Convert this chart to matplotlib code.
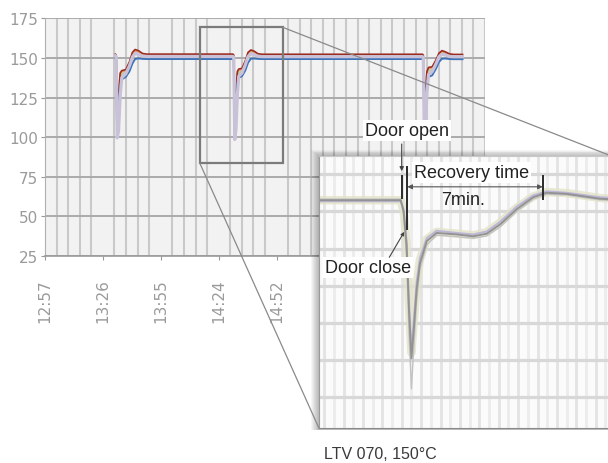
import matplotlib
matplotlib.use('Agg')
import matplotlib.pyplot as plt
import numpy as np
from matplotlib.patches import Rectangle, ConnectionPatch

# ---------------- main chart data (minutes since 12:57, °C) ----------------
time_min = [35.0, 35.4, 35.9, 36.6, 37.4, 38.2, 40.2, 42.0, 43.5, 44.8, 46.5, 48.5, 50.6,
            93.5, 93.9, 94.4, 95.0, 95.7, 96.4, 98.0, 99.6, 101.0, 102.4, 104.0, 106.0, 108.0,
            187.8, 188.2, 188.7, 189.3, 190.0, 190.8, 192.6, 194.4, 196.0, 197.5, 199.2, 201.3, 203.5, 207.7]

red = [152.4, 151.8, 100.0, 127.0, 140.5, 142.0, 142.6, 147.5, 153.5, 155.3, 154.6, 152.8, 152.4,
       152.4, 151.8, 99.0, 128.0, 141.5, 143.0, 143.4, 148.0, 153.5, 155.0, 154.3, 152.6, 152.3,
       152.3, 151.7, 104.0, 130.0, 141.5, 144.0, 144.4, 148.5, 153.0, 154.6, 153.8, 152.5, 152.2, 152.2]
orange = [152.2, 151.5, 100.5, 125.0, 139.5, 141.3, 141.9, 146.8, 152.6, 154.5, 153.8, 152.2, 151.9,
          151.9, 151.4, 99.5, 126.0, 140.5, 142.3, 142.7, 147.3, 152.8, 154.3, 153.6, 152.0, 151.8,
          151.8, 151.3, 104.5, 128.0, 140.8, 143.3, 143.7, 147.8, 152.3, 153.9, 153.2, 151.9, 151.7, 151.7]
beige = [151.8, 151.2, 100.0, 124.0, 138.5, 140.6, 141.2, 146.0, 151.8, 153.8, 153.2, 151.6, 151.3,
         151.3, 150.9, 99.0, 125.0, 139.5, 141.6, 142.0, 146.6, 152.0, 153.6, 153.0, 151.4, 151.2,
         151.2, 150.8, 103.5, 127.0, 140.0, 142.6, 143.0, 147.1, 151.6, 153.2, 152.6, 151.3, 151.1, 151.1]
green = [151.5, 150.8, 101.0, 122.0, 137.5, 139.8, 140.4, 145.3, 151.0, 153.2, 152.6, 151.1, 150.9,
         150.9, 150.5, 100.0, 123.0, 138.5, 140.8, 141.2, 145.8, 151.2, 153.0, 152.4, 150.9, 150.8,
         150.8, 150.4, 104.0, 125.0, 139.0, 141.8, 142.2, 146.4, 150.9, 152.6, 152.0, 150.8, 150.7, 150.7]
lavender = [151.4, 150.8, 99.5, 104.0, 126.0, 137.5, 140.0, 145.0, 150.6, 152.8, 152.3, 151.1, 150.9,
            150.9, 150.5, 98.5, 105.0, 127.0, 138.5, 140.5, 145.5, 150.9, 152.6, 152.1, 151.0, 150.8,
            150.8, 150.4, 100.0, 108.0, 128.0, 139.5, 141.4, 146.0, 150.8, 152.3, 151.8, 150.9, 150.8, 150.8]
blue = [150.0, 149.5, 101.0, 122.0, 133.0, 136.5, 138.0, 141.5, 146.5, 149.3, 149.7, 149.4, 149.3,
        149.3, 149.0, 100.0, 123.0, 134.0, 137.5, 138.5, 142.0, 147.0, 149.5, 149.6, 149.4, 149.3,
        149.3, 149.0, 106.0, 125.0, 135.0, 138.0, 139.0, 143.0, 147.5, 149.5, 149.6, 149.3, 149.2, 149.2]

x_tick_labels = ['12:57', '13:26', '13:55', '14:24', '14:52']
x_tick_step = 28.8        # minutes between labels
x_grid_step = 5.76        # minutes between grid lines
x_grid_count = 38
y_ticks = [25, 50, 75, 100, 125, 150, 175]

# zoom window shown in main chart (minutes, °C)
zoom_t = [77.0, 118.3]
zoom_v = [83.6, 169.3]

# ---------------- inset data (minutes after door open, °C) ----------------
inset_t = [-4.3, -0.05, 0.10, 0.25, 0.38, 0.50, 0.62, 0.77, 0.94, 1.29, 1.80, 2.84,
           3.69, 4.38, 5.07, 5.93, 6.78, 7.47, 8.51, 10.22, 12.3]
inset_band = [150.0, 150.0, 147.0, 138.0, 121.0, 109.0, 117.0, 127.0, 134.0, 139.5, 141.5, 141.0,
              140.6, 141.4, 144.0, 148.0, 151.0, 152.2, 151.9, 150.6, 150.0]
inset_deep = [150.3, 150.3, 146.0, 135.0, 114.0, 99.3, 110.0, 123.0, 131.5, 138.0, 140.6, 140.2,
              139.8, 140.4, 142.8, 147.0, 150.3, 151.6, 151.4, 150.1, 149.6]
inset_lav = [149.7, 149.7, 147.5, 139.0, 122.0, 110.0, 117.5, 128.0, 134.5, 139.8, 141.8, 141.2,
             140.8, 141.6, 144.2, 148.3, 151.3, 152.4, 152.0, 150.8, 150.2]
inset_grey = [150.0, 150.0, 147.0, 138.0, 120.0, 107.5, 115.0, 126.0, 133.0, 139.0, 141.2, 140.8,
              140.3, 141.0, 143.5, 147.6, 150.8, 152.0, 151.7, 150.4, 149.8]

door_open_t = 0.0
door_close_t = 0.26
recovered_t = 7.27

# ---------------- figure ----------------
W, H = 608, 464
fig = plt.figure(figsize=(W / 100, H / 100), dpi=100)


def fx(px):
    return px / W


def fy(py):
    return 1 - py / H


tick_font = 'Liberation Sans Narrow'
text_font = 'Liberation Sans'

ax = fig.add_axes([fx(45), fy(257), fx(485) - fx(45), fy(19.3) - fy(257)], zorder=1)
ax.set_facecolor('#f2f2f2')
ax.set_xlim(0, x_grid_count * x_grid_step)
ax.set_ylim(25, 175)
ax.set_xticks([i * x_tick_step for i in range(len(x_tick_labels))])
ax.set_xticklabels(x_tick_labels, rotation=90, fontfamily=tick_font)
ax.set_xticks([i * x_grid_step for i in range(x_grid_count + 1)], minor=True)
ax.set_yticks(y_ticks)
ax.set_yticklabels([str(v) for v in y_ticks], fontfamily=tick_font)
for xv in ax.get_xticks(minor=True):
    ax.axvline(xv, color='#c9c9c9', lw=1.5, zorder=0.5)
for yv in y_ticks:
    ax.axhline(yv, color='#ababab', lw=1.4, zorder=0.6)
ax.tick_params(which='minor', length=0)
ax.tick_params(axis='x', which='major', length=3, color='#999999', labelcolor='#9a9a9a',
               labelsize=11, pad=13)
ax.tick_params(axis='y', which='major', length=3, color='#999999', labelcolor='#9a9a9a',
               labelsize=11, pad=2)
for s in ['top', 'right']:
    ax.spines[s].set_visible(False)
ax.spines['left'].set_color('#b0b0b0')
ax.spines['bottom'].set_color('#9a9a9a')
ax.spines['bottom'].set_linewidth(1.2)

series = [
    (beige, '#d9d0ae', 1.5),
    (green, '#b4d0a6', 1.3),
    (orange, '#e5a064', 1.1),
    (red, '#9c2b22', 1.2),
    (blue, '#3e73b9', 1.4),
    (lavender, '#c9c1d8', 2.3),
]
for vals, col, lw in series:
    ax.plot(time_min, vals, color=col, lw=lw, zorder=2, solid_joinstyle='round')

ax.add_patch(Rectangle((zoom_t[0], zoom_v[0]), zoom_t[1] - zoom_t[0], zoom_v[1] - zoom_v[0],
                       fill=False, ec='#7b7b7b', lw=1.6, zorder=5))

# ---------------- shadow of the inset ----------------
for k in range(1, 9):
    fig.add_artist(Rectangle((fx(319 - k), fy(431)), fx(620) - fx(319 - k), fy(157.3 - k * 0.8) - fy(431),
                             transform=fig.transFigure, fc='black', ec='none', alpha=0.035, zorder=2))

# ---------------- inset ----------------
px_per_min = 19.4
door_px = 401.7
inset_left_px, inset_right_px = 319, 612
ax_in = fig.add_axes([fx(inset_left_px), fy(429.3), fx(inset_right_px) - fx(inset_left_px),
                      fy(157.3) - fy(429.3)], zorder=3)
ax_in.set_facecolor('#fbfbfb')
ax_in.set_xlim((inset_left_px - door_px) / px_per_min, (inset_right_px - door_px) / px_per_min)
ax_in.set_ylim(88.7, 161.8)
ax_in.set_xticks([])
ax_in.set_yticks([])
for i, xv in enumerate(np.arange(-4.0, 11.0, 0.5)):
    ax_in.axvline(xv, color='#e3e3e3' if i % 2 == 0 else '#ececec', lw=2.0, zorder=0.5)
for yv in range(97, 160, 10):
    ax_in.axhline(yv, color='#d8d8d8', lw=2.3, zorder=0.6)
ax_in.spines['right'].set_visible(False)
ax_in.spines['top'].set_color('#c8c8c8')
ax_in.spines['left'].set_color('#9a9a9a')
ax_in.spines['bottom'].set_color('#8a8a8a')

ax_in.plot(inset_t, inset_band, color='#e2e2c8', lw=6, alpha=0.8, zorder=2)
ax_in.plot(inset_t, inset_deep, color='#c2c2c2', lw=1.0, zorder=2)
ax_in.plot(inset_t, inset_lav, color='#bdb6d6', lw=1.4, zorder=2)
ax_in.plot(inset_t, inset_grey, color='#939393', lw=1.4, zorder=2.1)

# markers
mk = dict(color='#2a2a2a', lw=1.4, zorder=5)
ax_in.plot([door_open_t, door_open_t], [150.5, 156.6], **mk)
ax_in.plot([door_close_t, door_close_t], [142.3, 158.9], **mk)
ax_in.plot([recovered_t, recovered_t], [150.3, 156.5], **mk)

box = dict(facecolor='white', edgecolor='none', pad=1.5)
ax_in.text(0.27, 168.7, 'Door open', ha='center', va='center', fontsize=13, color='#222222',
           fontfamily=text_font, bbox=box, clip_on=False, zorder=6)
ax_in.annotate('', xy=(door_open_t, 157.8), xytext=(door_open_t, 165.1), annotation_clip=False,
               arrowprops=dict(arrowstyle='-|>', color='#444444', lw=0.8, mutation_scale=6,
                               shrinkA=0, shrinkB=0), zorder=6)
ax_in.text(3.61, 157.5, 'Recovery time', ha='center', va='center', fontsize=13, color='#222222',
           fontfamily=text_font, bbox=box, zorder=6)
ax_in.annotate('', xy=(door_close_t + 0.03, 153.6), xytext=(recovered_t, 153.6),
               arrowprops=dict(arrowstyle='<|-|>', color='#555555', lw=0.8, mutation_scale=7,
                               shrinkA=0, shrinkB=0), zorder=6)
ax_in.text(3.18, 150.3, '7min.', ha='center', va='center', fontsize=13, color='#222222',
           fontfamily=text_font, zorder=6)
ax_in.text(-1.75, 132.0, 'Door close', ha='center', va='center', fontsize=13, color='#222222',
           fontfamily=text_font, bbox=box, zorder=6)
ax_in.annotate('', xy=(0.13, 141.5), xytext=(-0.64, 134.65),
               arrowprops=dict(arrowstyle='-|>', color='#444444', lw=0.8, mutation_scale=5,
                               shrinkA=0, shrinkB=0), zorder=6)

# connectors from zoom window to inset
c1 = ConnectionPatch(xyA=(zoom_t[1], zoom_v[1]), coordsA=ax.transData, xyB=(1, 1),
                     coordsB=ax_in.transAxes, color='#8a8a8a', lw=0.9, zorder=2.5)
c2 = ConnectionPatch(xyA=(zoom_t[0], zoom_v[0]), coordsA=ax.transData, xyB=(0, 0),
                     coordsB=ax_in.transAxes, color='#8a8a8a', lw=0.9, zorder=2.5)
fig.add_artist(c1)
fig.add_artist(c2)

fig.text(fx(380), fy(455), 'LTV 070, 150°C', ha='center', va='center', fontsize=11.5,
         color='#3a3a3a', fontfamily=text_font)

fig.savefig('out.png', dpi=100)
